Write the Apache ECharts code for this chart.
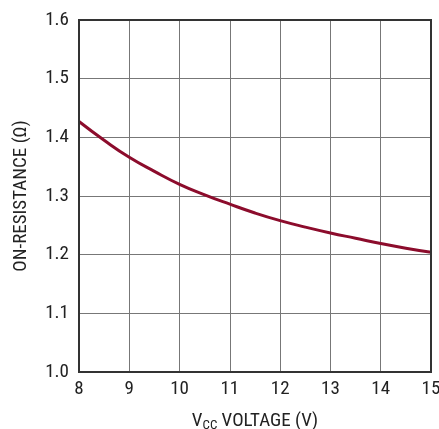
<!DOCTYPE html>
<html><head><meta charset="utf-8">
<script src="https://cdn.jsdelivr.net/npm/echarts@6/dist/echarts.min.js"></script>
<style>html,body{margin:0;padding:0;background:#fff}#c{width:439px;height:429px}</style>
</head><body><div id="c"></div>
<script>
const voltage = [8, 8.5, 9, 9.5, 10, 10.5, 11, 11.5, 12, 12.5, 13, 13.5, 14, 14.5, 15];
const onResistance = [1.427, 1.395, 1.366, 1.342, 1.320, 1.302, 1.286, 1.271, 1.258, 1.247, 1.237, 1.228, 1.219, 1.211, 1.204];
const xTicks = [8, 9, 10, 11, 12, 13, 14, 15];
const yTicks = ['1.0', '1.1', '1.2', '1.3', '1.4', '1.5', '1.6'];

const FONT = '"Roboto Condensed", "Liberation Sans Narrow", "Liberation Sans", sans-serif';
const chart = echarts.init(document.getElementById('c'));
chart.setOption({
  animation: false,
  backgroundColor: '#fff',
  grid: { left: 79, right: 8, top: 20, bottom: 57, containLabel: false, outerBoundsMode: 'none' },
  xAxis: {
    type: 'value', min: 8, max: 15, interval: 1,
    name: '{n|V}{s|CC}{n| VOLTAGE (V)}', nameLocation: 'middle', nameGap: 38,
    nameTextStyle: { rich: {
      n: { fontFamily: FONT, fontSize: 19, color: '#222' },
      s: { fontFamily: FONT, fontSize: 13, color: '#222', verticalAlign: 'bottom', padding: [9, 0, 0, 0] }
    } },
    axisLine: { show: true, onZero: false, lineStyle: { color: '#333', width: 2 } },
    axisTick: { show: false },
    axisLabel: { fontFamily: FONT, fontSize: 19, color: '#222', margin: 8,
      formatter: v => xTicks.includes(v) ? String(v) : '' },
    splitLine: { show: true, lineStyle: { color: '#777', width: 1 } }
  },
  yAxis: {
    type: 'value', min: 1.0, max: 1.6, interval: 0.1,
    name: 'ON-RESISTANCE (Ω)', nameLocation: 'middle', nameGap: 48, nameRotate: 90,
    nameTextStyle: { fontFamily: FONT, fontSize: 19, color: '#222' },
    axisLine: { show: true, onZero: false, lineStyle: { color: '#333', width: 2 } },
    axisTick: { show: false },
    axisLabel: { fontFamily: FONT, fontSize: 19, color: '#222', margin: 10,
      formatter: v => yTicks[Math.round((v - 1.0) * 10)] || '' },
    splitLine: { show: true, lineStyle: { color: '#777', width: 1 } }
  },
  graphic: [{
    type: 'rect', shape: { x: 79, y: 20, width: 352, height: 352 },
    style: { fill: 'none', stroke: '#333', lineWidth: 2 }, silent: true, z: 10
  }],
  series: [{
    type: 'line', smooth: true, showSymbol: false,
    data: voltage.map((v, i) => [v, onResistance[i]]),
    lineStyle: { color: '#8c0c2c', width: 3 }, z: 5
  }]
});
</script></body></html>
